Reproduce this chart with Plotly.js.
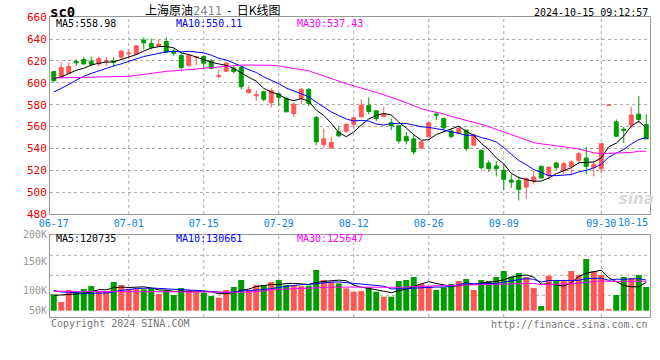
<!DOCTYPE html>
<html><head><meta charset="utf-8">
<script src="https://cdn.plot.ly/plotly-3.0.1.min.js"></script>
<style>html,body{margin:0;padding:0;background:#fff}#chart{width:660px;height:360px}</style>
</head><body><div id="chart"></div>
<script>
// ---------- data ----------
const dates = ['06-17','06-18','06-19','06-20','06-21','06-24','06-25','06-26','06-27','06-28',
 '07-01','07-02','07-03','07-04','07-05','07-08','07-09','07-10','07-11','07-12',
 '07-15','07-16','07-17','07-18','07-19','07-22','07-23','07-24','07-25','07-26',
 '07-29','07-30','07-31','08-01','08-02','08-05','08-06','08-07','08-08','08-09',
 '08-12','08-13','08-14','08-15','08-16','08-19','08-20','08-21','08-22','08-23',
 '08-26','08-27','08-28','08-29','08-30','09-02','09-03','09-04','09-05','09-06',
 '09-09','09-10','09-11','09-12','09-13','09-18','09-19','09-20','09-23','09-24',
 '09-25','09-26','09-27','09-30','10-08','10-09','10-10','10-11','10-14','10-15'];
const open  = [610.3,605.7,608.8,619.5,621.3,619.8,617.3,619.8,620.1,623.5,
 626.5,626.2,639.1,636.0,633.6,637.9,629.0,625.0,615.8,623.2,
 624.1,620.1,606.0,610.6,613.4,614.3,591.0,588.2,591.9,581.8,
 589.8,585.8,572.0,585.8,594.1,568.3,543.5,540.5,555.2,555.8,
 561.9,568.9,579.4,574.5,569.2,563.4,560.7,551.0,548.7,540.5,
 550.6,571.4,567.4,555.8,553.6,556.7,542.9,538.3,526.7,523.9,
 520.0,511.0,510.7,504.6,510.1,523.6,515.3,526.7,520.0,523.6,
 529.1,531.3,522.4,521.5,579.7,564.3,557.6,561.3,571.4,561.9];
const high  = [610.9,618.6,618.6,621.6,623.8,624.1,624.1,623.5,623.5,630.2,
 630.0,634.8,641.5,640.6,639.4,641.5,631.1,626.5,626.5,624.7,
 625.0,621.6,611.8,619.2,614.9,615.5,597.4,592.8,592.8,595.0,
 591.0,587.3,581.8,595.3,595.0,569.9,558.2,550.6,559.7,563.4,
 568.9,584.9,586.7,575.1,578.1,567.4,561.3,555.2,553.0,546.9,
 564.0,573.5,568.0,557.3,560.4,557.3,553.6,538.9,529.1,528.5,
 524.5,516.3,514.4,513.8,519.3,524.5,523.0,527.6,527.6,529.1,
 536.8,541.4,529.1,544.4,579.7,566.5,559.7,578.1,587.9,571.4];
const low   = [600.2,605.0,608.2,615.5,616.8,614.9,614.9,615.5,614.9,621.6,
 621.6,625.9,630.5,630.5,633.3,627.4,624.7,612.4,614.3,616.1,
 613.4,612.4,604.2,609.7,608.8,594.1,590.4,583.6,583.0,577.5,
 578.7,572.9,568.9,580.6,578.7,542.6,540.5,539.8,550.6,554.2,
 558.2,568.3,571.1,565.0,568.9,556.7,544.4,543.5,534.3,538.9,
 550.0,565.9,556.7,549.0,553.0,537.7,542.0,520.5,518.4,514.4,
 501.6,504.0,492.4,493.9,507.1,512.6,511.4,520.5,516.9,515.3,
 526.1,516.3,514.4,517.5,579.7,550.6,545.0,558.2,563.4,548.4];
const close = [602.0,614.0,614.9,618.3,617.3,617.0,622.2,620.4,618.9,629.0,
 627.1,633.9,636.6,632.6,635.4,628.1,627.1,614.0,625.0,623.8,
 618.0,613.4,606.6,618.0,610.3,596.5,593.8,589.2,584.9,592.8,
 586.7,573.5,580.6,594.1,581.2,546.0,548.7,545.4,551.5,561.9,
 568.0,579.7,573.8,567.4,571.4,560.7,546.9,546.9,536.8,546.0,
 563.4,570.5,558.8,551.0,558.2,539.8,552.1,522.4,521.5,521.5,
 511.7,509.2,502.5,512.3,513.8,512.9,523.0,522.4,526.1,527.6,
 535.2,523.6,525.1,544.4,579.7,551.2,556.4,570.5,566.5,548.7];
// volume, thousands of lots
const volK = [69.7,37.0,88.3,79.7,92.5,105.3,84.0,84.0,122.4,109.6,
 93.9,92.5,91.1,96.8,71.2,86.8,66.9,96.8,88.3,79.7,
 76.9,62.6,55.5,88.3,101.1,130.9,85.4,109.6,109.6,122.4,
 130.9,109.6,109.6,105.3,106.8,173.7,130.9,123.8,116.7,95.4,
 81.1,84.0,99.6,81.1,59.8,59.8,126.7,130.9,143.8,113.9,
 105.3,88.3,99.6,113.9,126.7,135.2,88.3,130.9,126.7,143.8,
 169.4,145.2,160.8,143.8,96.8,19.9,149.5,130.9,126.7,169.4,
 152.3,220.6,169.4,152.3,7.1,66.9,143.8,139.5,152.3,101.1];
// moving-average values before enough visible days exist
const ma5Head  = [604.0,605.5,608.5,611.5];
const ma10Head = [591.5,594.8,598.5,602.5,606.0,608.6,611.0,613.8,615.5];
const ma30Head = [604.5,604.5,604.6,604.7,605.0,605.2,605.3,605.3,605.4,605.5,
 606.0,606.8,607.8,609.0,610.0,610.5,611.0,611.4,612.0,612.7,
 613.3,614.0,614.8,615.5,616.0,616.2,616.3,616.4,616.3];
const vma5Head  = [65.5,66.0,69.0,72.0];
const vma10Head = [86.8,80.0,79.0,76.0,74.0,74.0,74.0,76.0,80.0];
const vma30Head = [82.6,82.6,82.6,82.6,82.6,82.6,82.6,82.6,82.6,82.6,
 82.6,82.6,82.6,82.6,82.6,82.6,82.6,82.6,82.6,82.0,
 81.0,80.0,79.0,78.3,78.3,79.0,80.0,82.0,84.0];
const tickDates = ['06-17','07-01','07-15','07-29','08-12','08-26','09-09','09-30'];
const volTickVals = [0,85.4,212,324];
const volTickText = ['50K','100K','150K','200K'];
const legendMain = ['MA5:558.98','MA10:550.11','MA30:537.43'];
const legendVol  = ['MA5:120735','MA10:130661','MA30:125647'];
const symbol = 'sc0';
const titleName = '上海原油', titleCode = '2411', titleKind = '日K线图';
const stamp = '2024-10-15 09:12:57';
const copyright = 'Copyright 2024 SINA.COM';
const url = 'http://finance.sina.com.cn';

// ---------- helpers ----------
function movingAvg(vals, n, head){
  return vals.map((v,i)=>{
    if(i < n-1) return head[i];
    let s=0; for(let k=i-n+1;k<=i;k++) s+=vals[k];
    return s/n;
  });
}
const idx = dates.map((d,i)=>i);
const W=660,H=360,L=50,R=10,T=17,B=43, PW=W-L-R, PH=H-T-B;
const px = x => (x-L)/PW, py = y => 1-(y-T)/PH;

const RED='#ff5656', GREEN='#009c00', MAC=['#000000','#0000ff','#ff00ff'];
const mono='DejaVu Sans Mono, monospace';

const traces = [
 {type:'candlestick', x:idx, open:open, high:high, low:low, close:close,
  xaxis:'x', yaxis:'y', whiskerwidth:0,
  increasing:{line:{color:RED,width:1}, fillcolor:RED},
  decreasing:{line:{color:GREEN,width:1}, fillcolor:GREEN}, hoverinfo:'skip'},
 {type:'scatter', mode:'lines', x:idx, y:movingAvg(close,5,ma5Head), xaxis:'x', yaxis:'y', line:{color:MAC[0],width:1}},
 {type:'scatter', mode:'lines', x:idx, y:movingAvg(close,10,ma10Head), xaxis:'x', yaxis:'y', line:{color:MAC[1],width:1}},
 {type:'scatter', mode:'lines', x:idx, y:movingAvg(close,30,ma30Head), xaxis:'x', yaxis:'y', line:{color:MAC[2],width:1}},
 {type:'bar', x:idx, y:volK, xaxis:'x2', yaxis:'y2',
  marker:{color:idx.map(i=>close[i]>=open[i]?RED:GREEN), line:{width:0}}},
 {type:'scatter', mode:'lines', x:idx, y:movingAvg(volK,5,vma5Head), xaxis:'x2', yaxis:'y2', line:{color:MAC[0],width:1}},
 {type:'scatter', mode:'lines', x:idx, y:movingAvg(volK,10,vma10Head), xaxis:'x2', yaxis:'y2', line:{color:MAC[1],width:1}},
 {type:'scatter', mode:'lines', x:idx, y:movingAvg(volK,30,vma30Head), xaxis:'x2', yaxis:'y2', line:{color:MAC[2],width:1}}
];

const tickIdx = tickDates.map(d=>dates.indexOf(d));
const shapes = [];
const gridLine = {color:'#aaaaaa', width:1, dash:'dot'};
tickIdx.slice(1).forEach(t=>{
  shapes.push({type:'line', layer:'below', xref:'x', yref:'y domain', x0:t, x1:t, y0:0, y1:1, line:gridLine});
  shapes.push({type:'line', layer:'below', xref:'x2', yref:'y2 domain', x0:t, x1:t, y0:0, y1:1, line:gridLine});
});
[0.264,0.507,0.75].forEach(f=>{
  shapes.push({type:'line', layer:'below', xref:'x2 domain', yref:'y2 domain', x0:0, x1:1, y0:f, y1:f, line:gridLine});
});

const ann = [];
function text(t, x, y, anchor, font){ ann.push({text:t, xref:'paper', yref:'paper', x:px(x), y:py(y), xanchor:anchor, yanchor:'middle', showarrow:false, font:font}); }
text(symbol, 48, 12, 'left', {family:mono, size:14, color:'#000', weight:700});
text(titleName+'<span style="color:#888888;font-family:DejaVu Sans Mono">'+titleCode+'</span>\u00a0\u00a0-\u00a0\u00a0'+titleKind,
     213, 10, 'center', {family:'Noto Sans CJK SC', size:12, color:'#000'});
text(stamp, 650, 12, 'right', {family:mono, size:10, color:'#000'});
const legX=[54,174,295];
legendMain.forEach((s,k)=>text(s, legX[k], 24, 'left', {family:mono, size:10, color:MAC[k]}));
legendVol.forEach((s,k)=>text(s, legX[k], 238, 'left', {family:mono, size:10, color:MAC[k]}));
text(copyright, 49, 323.5, 'left', {family:mono, size:10, color:'#777'});
text(url, 650, 324.5, 'right', {family:mono, size:10, color:'#777'});
text(dates[dates.length-1], 650, 222, 'right', {family:mono, size:10, color:'#0a84e0'});
text('<i><b>sina</b></i>', 636, 199, 'center', {family:'DejaVu Sans', size:15, color:'#d8d8d8'});

const axLine = {showline:true, mirror:true, linecolor:'#999999', linewidth:1};
const layout = {
  width:W, height:H, margin:{l:L,r:R,t:T,b:B,pad:0},
  paper_bgcolor:'#fff', plot_bgcolor:'#fff', showlegend:false, hovermode:false,
  bargap:0.2, boxgap:0.25,
  xaxis:Object.assign({domain:[0,1], anchor:'y', range:[-0.5,79.5], rangeslider:{visible:false},
    tickmode:'array', tickvals:tickIdx, ticktext:tickDates, showgrid:false, zeroline:false, ticks:'',
    tickfont:{family:mono, size:10, color:'#0a84e0'}}, axLine),
  yaxis:Object.assign({domain:[py(214),1], anchor:'x', range:[480,660.25], dtick:20, tick0:480,
    showgrid:true, gridcolor:'#aaaaaa', griddash:'dot', gridwidth:1, zeroline:false, ticks:'',
    tickfont:{family:mono, size:11, color:'#ee0000'}}, axLine),
  xaxis2:Object.assign({domain:[0,1], anchor:'y2', matches:'x', showticklabels:false, showgrid:false, zeroline:false, ticks:''}, axLine),
  yaxis2:Object.assign({domain:[0,py(234.7)], anchor:'x2', range:[-26.9,324.5], tickmode:'array',
    tickvals:volTickVals, ticktext:volTickText, showgrid:false, zeroline:false, ticks:'',
    tickfont:{family:mono, size:10, color:'#999999'}}, axLine),
  shapes:shapes, annotations:ann
};
Plotly.newPlot('chart', traces, layout, {staticPlot:true, displayModeBar:false});
</script></body></html>
